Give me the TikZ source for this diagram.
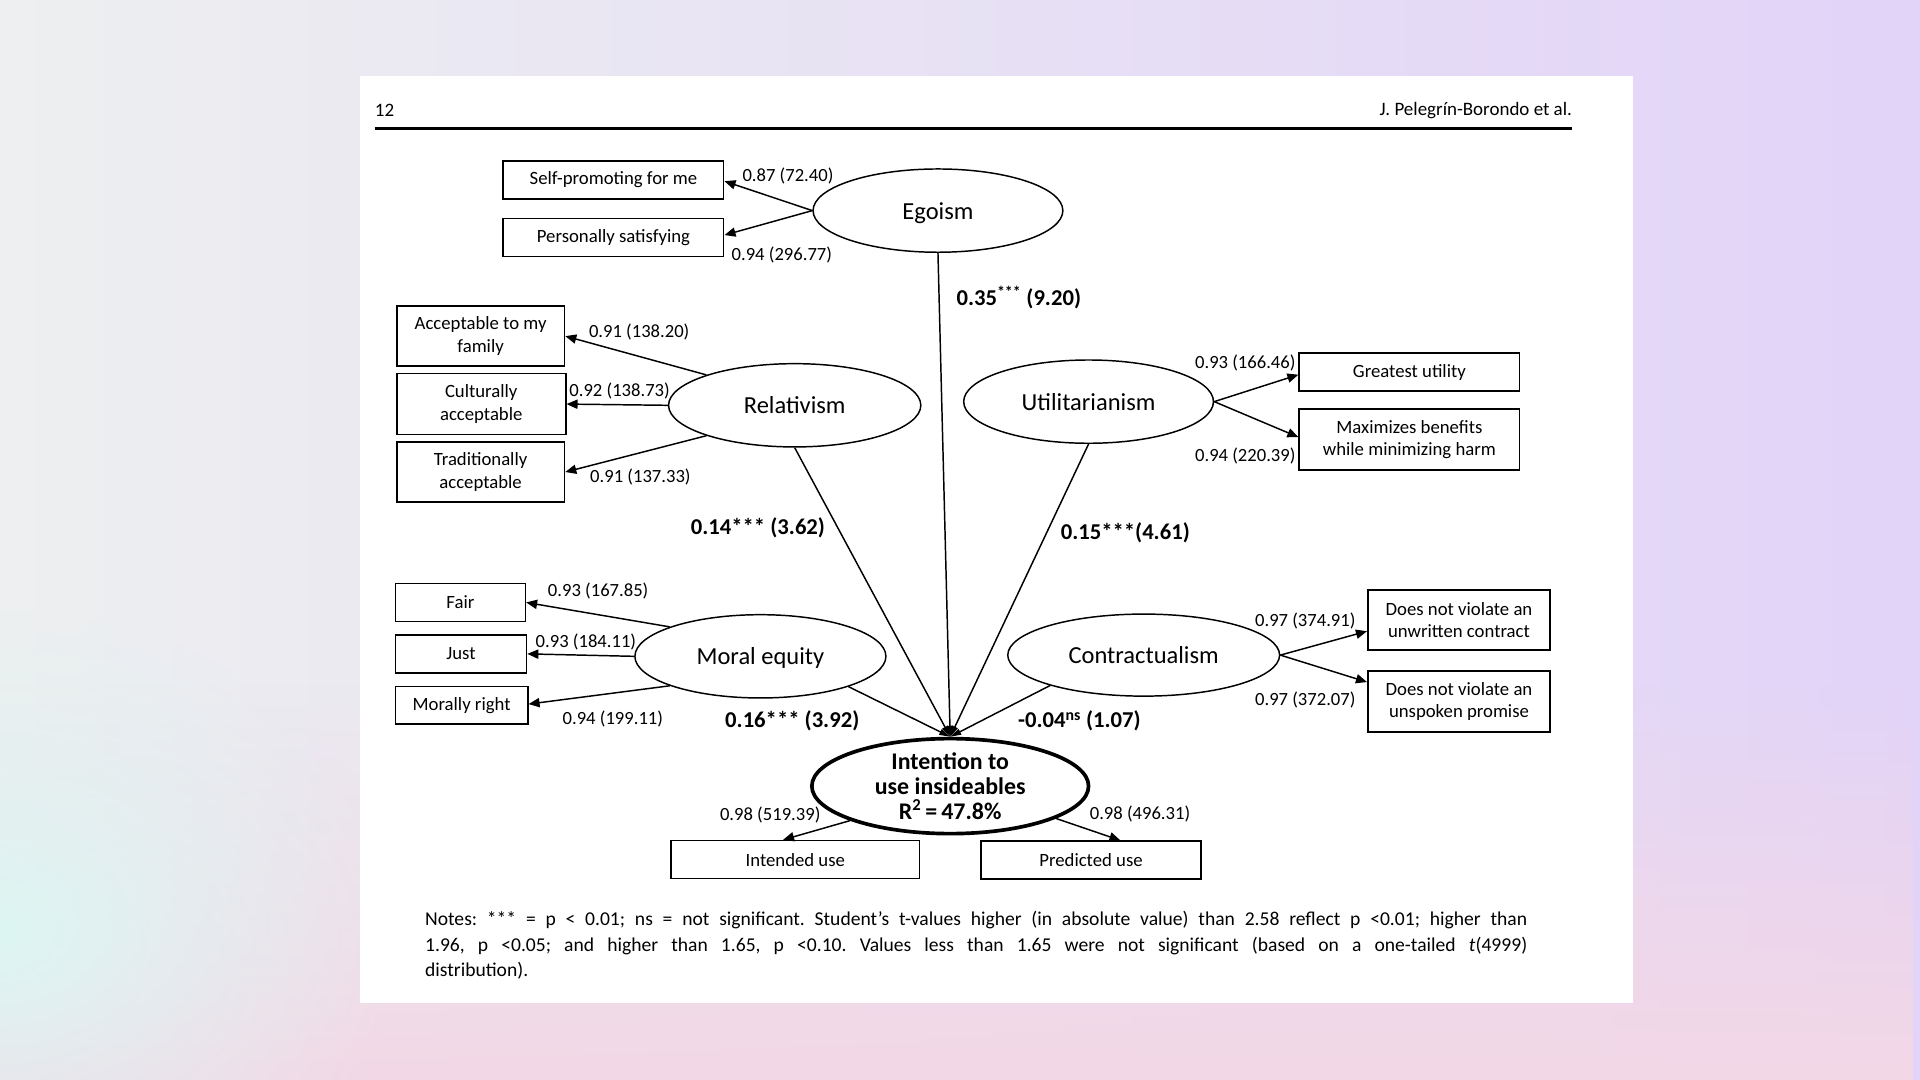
\documentclass[tikz,border=0pt]{standalone}
\usepackage{fontspec}
\setmainfont{Carlito}
\usetikzlibrary{shapes.geometric,arrows.meta,fadings}
\definecolor{bgL}{HTML}{EDEFF0}
\definecolor{bgR}{HTML}{E2D3F8}
\definecolor{bgPink}{HTML}{F3D8E6}
\definecolor{bgMint}{HTML}{DDF6F3}
\tikzfading[name=fadeup, top color=transparent!100, bottom color=transparent!0]
\tikzfading[name=fuzzyround, inner color=transparent!0, outer color=transparent!100]
\begin{document}
\begin{tikzpicture}[x=1pt,y=-1pt,
  ibox/.style={draw, rectangle, line width=1.3pt, inner sep=0pt, align=center,
    font=\fontsize{15.3}{18.5}\selectfont},
  lat/.style={draw, ellipse, line width=1.2pt, inner sep=0pt, text depth=0pt,
    font=\fontsize{20}{24}\selectfont},
  coef/.style={inner sep=0pt, yshift=-1.5pt, font=\fontsize{15.2}{18}\selectfont},
  pathlbl/.style={inner sep=0pt, yshift=-1pt, font=\bfseries\fontsize{18.5}{22}\selectfont},
  arr/.style={-{Triangle[length=9pt,width=7.5pt]}, line width=1.2pt},
  sarr/.style={-{Triangle[length=9pt,width=5pt]}, line width=1.2pt}
]
% background
\useasboundingbox (0,0) rectangle (1568,882);
\shade[left color=bgL, right color=bgR] (0,0) rectangle (1568,882);
\fill[bgPink, path fading=fadeup] (0,560) rectangle (1568,882);
\fill[bgMint, path fading=fuzzyround] (0,760) ellipse [x radius=330, y radius=260];
% page
\fill[white] (294,62) rectangle (1334,819);
% header
\node[inner sep=0pt, anchor=west, font=\fontsize{15.5}{18}\selectfont] (pg) at (306,90) {12};
\node[inner sep=0pt, anchor=east, font=\fontsize{15.5}{18}\selectfont] (auth) at (1284,90) {J. Pelegrín-Borondo et al.};
\coordinate (rl) at (306,105);
\coordinate (rr) at (1284,105);
\draw[line width=2pt] (rl) -- (rr);

% latent variables
\node[lat, minimum width=204pt, minimum height=68pt] (ego) at (766,172) {Egoism};
\node[lat, minimum width=206pt, minimum height=68pt] (rel) at (649,331) {Relativism};
\node[lat, minimum width=204pt, minimum height=68pt] (utl) at (889,328) {Utilitarianism};
\node[lat, minimum width=205pt, minimum height=68pt] (meq) at (621,536) {Moral equity};
\node[lat, minimum width=222pt, minimum height=67pt] (con) at (934,535) {Contractualism};
\node[draw, ellipse, line width=3pt, inner sep=0pt, minimum width=226pt, minimum height=71pt,
  align=center, font=\bfseries\fontsize{19.5}{20.5}\selectfont] (int) at (776,642)
  {Intention to\\use insideables\\R\textsuperscript{2}\,=\,47.8\%};

% indicator boxes
\node[ibox, minimum width=180pt, minimum height=31pt] (sp) at (501,147) {Self-promoting for me};
\node[ibox, minimum width=180pt, minimum height=31pt] (ps) at (501,194) {Personally satisfying};
\node[ibox, minimum width=137pt, minimum height=49pt] (acc) at (392.5,274.5) {Acceptable to my\\family};
\node[ibox, minimum width=138pt, minimum height=50pt] (cul) at (393,330) {Culturally\\acceptable};
\node[ibox, minimum width=137pt, minimum height=49pt] (tra) at (392.5,385.5) {Traditionally\\acceptable};
\node[ibox, minimum width=180pt, minimum height=31pt] (gu) at (1151,304) {Greatest utility};
\node[ibox, minimum width=180pt, minimum height=50pt] (mb) at (1151,359) {Maximizes benefits\\while minimizing harm};
\node[ibox, minimum width=106pt, minimum height=31pt] (fair) at (376,492) {Fair};
\node[ibox, minimum width=107pt, minimum height=31pt] (just) at (376.5,534) {Just};
\node[ibox, minimum width=108pt, minimum height=31pt] (mr) at (377,576) {Morally right};
\node[ibox, minimum width=149pt, minimum height=49pt] (c1) at (1191.5,506.5) {Does not violate an\\unwritten contract};
\node[ibox, minimum width=149pt, minimum height=50pt] (c2) at (1191.5,573) {Does not violate an\\unspoken promise};
\node[ibox, minimum width=203pt, minimum height=31pt] (iu) at (649.5,702) {Intended use};
\node[ibox, minimum width=180pt, minimum height=31pt] (pu) at (891,702.5) {Predicted use};

% measurement arrows
\draw[arr] (ego.west) -- ([yshift=-1pt]sp.east);
\draw[arr] (ego.west) -- ([yshift=2pt]ps.east);
\draw[arr] (rel.161) -- (acc.east);
\draw[arr] (rel.west) -- (cul.east);
\draw[arr] (rel.199) -- (tra.east);
\draw[arr] (utl.east) -- ([yshift=-2pt]gu.west);
\draw[arr] (utl.east) -- ([yshift=2pt]mb.west);
\draw[arr] (meq.162) -- (fair.east);
\draw[arr] (meq.west) -- (just.east);
\draw[arr] (meq.198) -- ([yshift=1pt]mr.east);
\draw[arr] (con.east) -- ([yshift=-9pt]c1.west);
\draw[arr] (con.east) -- ([yshift=16pt]c2.west);
\draw[arr] (int.199) -- ([xshift=-10pt]iu.north);
\draw[arr] (int.343) -- ([xshift=24pt]pu.north);

% structural arrows
\draw[sarr] (ego.south) -- (int.north);
\draw[sarr] (rel.south) -- (int.north);
\draw[sarr] (utl.south) -- (int.north);
\draw[sarr] (meq.341) -- (int.north);
\draw[sarr] (con.198) -- (int.north);

% loadings
\node[coef] (l1) at (643.5,142) {0.87 (72.40)};
\node[coef] (l2) at (638.5,207) {0.94 (296.77)};
\node[coef] (l3) at (522,270) {0.91 (138.20)};
\node[coef] (l4) at (506,318) {0.92 (138.73)};
\node[coef] (l5) at (523,388) {0.91 (137.33)};
\node[coef] (l6) at (1017,295) {0.93 (166.46)};
\node[coef] (l7) at (1017,371) {0.94 (220.39)};
\node[coef] (l8) at (488.5,481) {0.93 (167.85)};
\node[coef] (l9) at (478.5,523) {0.93 (184.11)};
\node[coef] (l10) at (500.5,586) {0.94 (199.11)};
\node[coef] (l11) at (1066,506) {0.97 (374.91)};
\node[coef] (l12) at (1066,570) {0.97 (372.07)};
\node[coef] (l13) at (629,664) {0.98 (519.39)};
\node[coef] (l14) at (931,663) {0.98 (496.31)};

% path coefficients
\node[pathlbl] (p1) at (832,242) {0.35\textsuperscript{***} (9.20)};
\node[pathlbl] (p2) at (619,430) {0.14*** (3.62)};
\node[pathlbl] (p3) at (919,434) {0.15***(4.61)};
\node[pathlbl] (p4) at (647,588) {0.16*** (3.92)};
\node[pathlbl] (p5) at (881.5,588) {-0.04\textsuperscript{ns} (1.07)};

% notes
\node[inner sep=0pt, anchor=north west, text width=900pt, align=justify,
  font=\fontsize{16}{20.8}\selectfont\frenchspacing] (notes) at (347,744)
  {Notes: *** = p < 0.01; ns = not significant. Student’s t-values higher (in absolute value) than 2.58 reflect p <0.01; higher than\linebreak
  1.96, p <0.05; and higher than 1.65, p <0.10. Values less than 1.65 were not significant (based on a one-tailed \textit{t}(4999)\linebreak
  distribution).};
\end{tikzpicture}
\end{document}
